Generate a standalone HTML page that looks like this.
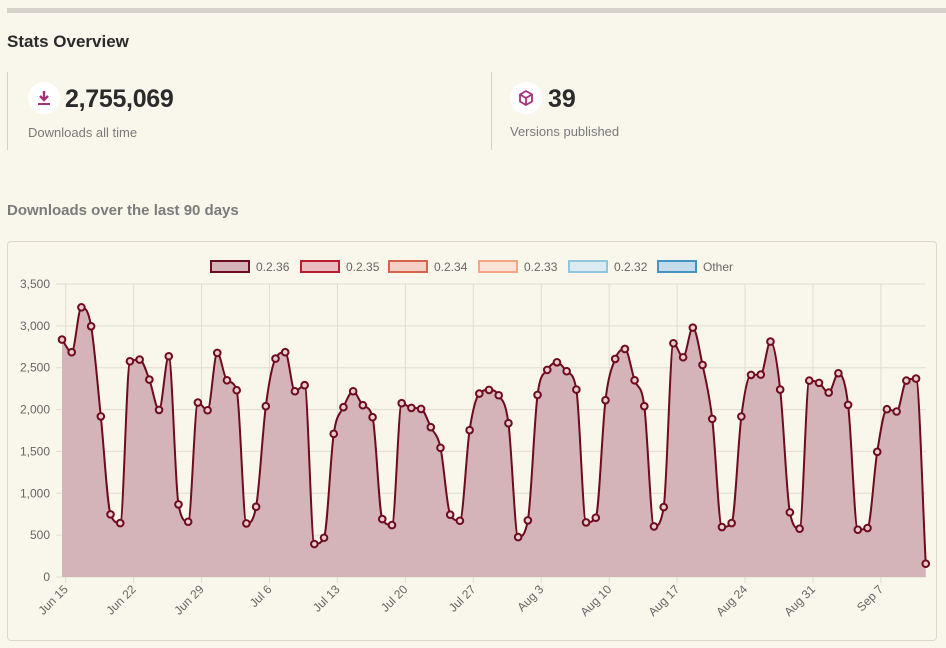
<!DOCTYPE html>
<html><head><meta charset="utf-8"><style>
body{margin:0;width:946px;height:648px;background:#f9f6eb;font-family:"Liberation Sans",sans-serif;position:relative;overflow:hidden}
.abs{position:absolute}
</style></head><body>
<div class="abs" style="left:7px;top:8px;width:939px;height:5px;background:#d6d2c9"></div>
<div class="abs" style="left:7px;top:32px;font-size:17px;font-weight:bold;color:#2b2b2b">Stats Overview</div>
<div class="abs" style="left:7px;top:72px;width:483px;height:78px;border-left:1px solid #d4d0c4;border-right:1px solid #d4d0c4"></div>
<div class="abs" style="left:28px;top:82px;width:32px;height:32px;border-radius:50%;background:#fff">
<svg width="32" height="32"><path d="M16 9v8M12 14l4 4 4-4" stroke="#a4317a" stroke-width="2.4" fill="none"/><rect x="10" y="21" width="12" height="2" fill="#a4317a"/></svg></div>
<div class="abs" style="left:65px;top:85px;font-size:25px;font-weight:bold;color:#2b2b2b;letter-spacing:-0.3px">2,755,069</div>
<div class="abs" style="left:28px;top:125px;font-size:13px;color:#7a7a7a">Downloads all time</div>
<div class="abs" style="left:510px;top:82px;width:32px;height:32px;border-radius:50%;background:#fff">
<svg width="32" height="32"><path d="M16 9l6 3.5v7L16 23l-6-3.5v-7z M10 12.5l6 3.5 6-3.5 M16 16v7" stroke="#a4317a" stroke-width="1.8" fill="none"/></svg></div>
<div class="abs" style="left:548px;top:85px;font-size:25px;font-weight:bold;color:#2b2b2b">39</div>
<div class="abs" style="left:510px;top:124px;font-size:13px;color:#7a7a7a">Versions published</div>
<div class="abs" style="left:7px;top:202px;font-size:15px;font-weight:bold;color:#7b7b7b">Downloads over the last 90 days</div>
<div class="abs" style="left:7px;top:241px;width:928px;height:398px;border:1px solid #ddd8c8;border-radius:4px"></div>
<svg id="chart" class="abs" style="left:0;top:0" width="946" height="648"></svg>
<script>
const values=[2836,2685,3221,2995,1918,748,644,2577,2597,2358,1996,2637,867,660,2084,1992,2677,2350,2231,640,839,2040,2609,2685,2219,2291,394,469,1710,2028,2219,2052,1909,692,620,2076,2020,2008,1790,1543,744,672,1754,2191,2235,2171,1837,477,676,2175,2474,2565,2458,2239,652,708,2112,2605,2724,2350,2040,604,835,2792,2625,2979,2533,1889,597,644,1917,2414,2418,2812,2239,772,577,2346,2319,2203,2434,2056,565,585,1495,2004,1977,2346,2370,159];
const xTicks=["Jun 15","Jun 22","Jun 29","Jul 6","Jul 13","Jul 20","Jul 27","Aug 3","Aug 10","Aug 17","Aug 24","Aug 31","Sep 7"];
const yTicks=[0,500,1000,1500,2000,2500,3000,3500];
const legendLabels=["0.2.36","0.2.35","0.2.34","0.2.33","0.2.32","Other"];
const legendFill=["#d4b4b8","#ebbcbf","#f5d0c6","#fde3d6","#ddebf3","#c4dbeb"];
const legendStroke=["#6e0b1e","#b81c2e","#d9634a","#f4a582","#92c5de","#4393c3"];
const svg=document.getElementById('chart');const NS="http://www.w3.org/2000/svg";
const X0=62,DX=9.705,Y0=577,YS=293/3500;
const xs=i=>X0+i*DX, ys=v=>Y0-v*YS;
function mk(t,a,p){const e=document.createElementNS(NS,t);for(const k in a)e.setAttribute(k,a[k]);(p||svg).appendChild(e);return e;}
yTicks.forEach(v=>{
 const g=mk('line',{x1:56,x2:926,y1:ys(v),y2:ys(v),stroke:'#e0dccf','stroke-width':1});
 
 
 const t=mk('text',{x:50,y:ys(v)+4,'text-anchor':'end','font-size':12,fill:'#666'});t.textContent=v.toLocaleString('en-US');
 
 
});
xTicks.forEach((l,k)=>{
 const x=xs(k*7)+3.7;
 const g=mk('line',{x1:x,x2:x,y1:284,y2:583,stroke:'#e0dccf','stroke-width':1});
 
 
 const t=mk('text',{x:x+3,y:590,'text-anchor':'end','font-size':12,fill:'#666',transform:`rotate(-45 ${x+3} 590)`});t.textContent=l;
 
 
});
const pts=values.map((v,i)=>[xs(i),ys(v)]);
// monotone cubic interpolation
const n=pts.length,dl=[],m=[];
for(let i=0;i<n-1;i++)dl.push((pts[i+1][1]-pts[i][1])/DX);
m[0]=dl[0];m[n-1]=dl[n-2];
for(let i=1;i<n-1;i++){m[i]=(dl[i-1]*dl[i]<=0)?0:(dl[i-1]+dl[i])/2;}
for(let i=0;i<n-1;i++){if(dl[i]===0){m[i]=0;m[i+1]=0;continue;}const a=m[i]/dl[i],b=m[i+1]/dl[i],s=a*a+b*b;if(s>9){const t=3/Math.sqrt(s);m[i]=t*a*dl[i];m[i+1]=t*b*dl[i];}}
let d=`M${pts[0][0]},${pts[0][1]}`;
for(let i=0;i<n-1;i++){const h=DX/3;d+=`C${pts[i][0]+h},${pts[i][1]+m[i]*h},${pts[i+1][0]-h},${pts[i+1][1]-m[i+1]*h},${pts[i+1][0]},${pts[i+1][1]}`;}
const area=mk('path',{d:d+`L${pts[n-1][0]},${Y0}L${pts[0][0]},${Y0}Z`,fill:'#d4b4b8'});


const line=mk('path',{d:d,fill:'none',stroke:'#6e0b1e','stroke-width':2});


pts.forEach(p=>{const c=mk('circle',{cx:p[0],cy:p[1],r:3.3,fill:'#e8ccd0',stroke:'#6e0b1e','stroke-width':2});
 
 });
const lx=[210,300,388,478,568,657];
legendLabels.forEach((l,i)=>{
 const r=mk('rect',{x:lx[i]+1,y:261,width:38,height:11,fill:legendFill[i],stroke:legendStroke[i],'stroke-width':2});
 
 
 const t=mk('text',{x:lx[i]+46,y:271,'font-size':12,fill:'#666'});t.textContent=l;
 
 
});
</script>
</body></html>
